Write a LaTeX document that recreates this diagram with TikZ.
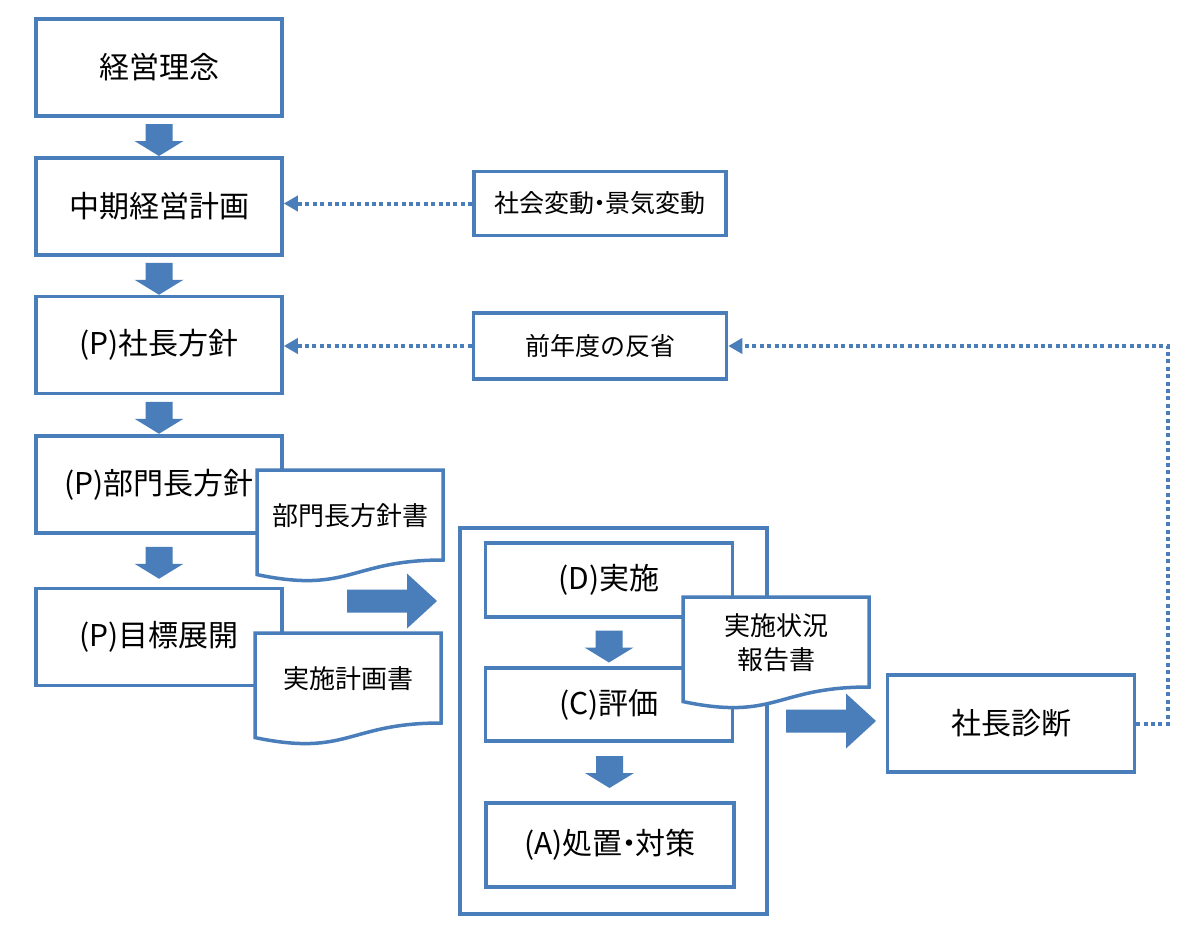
\documentclass[tikz,border=0pt]{standalone}
\usepackage{fontspec}
\setmainfont{Noto Sans CJK JP}
\usetikzlibrary{arrows.meta,calc}
\definecolor{bc}{RGB}{74,126,187}
\newcommand\mydoc[4]{%
  \begin{scope}[shift={(#2,#3)}]
    \draw[docline] (0,0) -- (186,0) -- (186,90) .. controls (93,90) and (93,124) .. (0,104.6) -- cycle;
    \node[doctext] (#1) at (93,46) {#4};
  \end{scope}}
\newcommand\ndot{\kern-0.28em・\kern-0.28em}
\begin{document}
\begin{tikzpicture}[x=1pt,y=-1pt,
  box/.style={draw=bc, line width=3.5pt, fill=white, inner sep=0pt, font=\fontsize{30}{36}\selectfont},
  sbox/.style={box, font=\fontsize{25}{30}\selectfont},
  docline/.style={draw=bc, line width=3.5pt, fill=white, line join=miter},
  doctext/.style={font=\fontsize{26}{34}\selectfont, align=center, inner sep=0pt},
  dotarrow/.style={draw=bc, line width=4pt, dash pattern=on 4pt off 3.4pt, -{Triangle[length=14pt,width=15pt]}},
  downarr/.pic={\fill[bc] (-13.5,-16) -- (13.5,-16) -- (13.5,1) -- (24.5,1) -- (0,16) -- (-24.5,1) -- (-13.5,1) -- cycle;},
  rightarr/.pic={\fill[bc] (-45,-11.5) -- (15,-11.5) -- (15,-27.5) -- (45,0) -- (15,27.5) -- (15,11.5) -- (-45,11.5) -- cycle;}
]
\fill[white] (0,0) rectangle (1200,929);
\useasboundingbox (0,0) rectangle (1200,929);

% left column
\node[box, minimum width=246pt, minimum height=97pt] (n1) at (159,67.5) {経営理念};
\node[box, minimum width=246pt, minimum height=97pt] (n2) at (159,206.5) {中期経営計画};
\node[box, minimum width=246pt, minimum height=97pt] (n3) at (159,345) {(P)社長方針};
\node[box, minimum width=246pt, minimum height=97pt] (n4) at (159,484.5) {(P)部門長方針};
\node[box, minimum width=246pt, minimum height=97pt] (n5) at (159,637) {(P)目標展開};

% middle boxes
\node[sbox, minimum width=252pt, minimum height=64pt] (s1) at (600,203.5) {社会変動\ndot 景気変動};
\node[sbox, minimum width=253pt, minimum height=66pt] (s2) at (600,346) {前年度の反省};

% container and DCA
\node[box, minimum width=307pt, minimum height=386pt] (cont) at (613.5,721) {};
\node[box, minimum width=247pt, minimum height=74pt] (d) at (609,580) {(D)実施};
\node[box, minimum width=247pt, minimum height=73pt] (c) at (609,704.5) {(C)評価};
\node[box, minimum width=248pt, minimum height=84pt] (a) at (610,845) {(A)処置\ndot 対策};

% president diagnosis
\node[box, minimum width=247pt, minimum height=97pt] (pres) at (1011,723.5) {社長診断};

% documents
\mydoc{doc1}{257}{470}{部門長方針書}
\mydoc{doc2}{255}{633}{実施計画書}
\mydoc{doc3}{683}{597}{実施状況\\報告書}

% block arrows
\pic at ($(n1.south)!0.5!(n2.north)+(0,3)$) {downarr};
\pic at ($(n2.south)!0.5!(n3.north)+(0,3)$) {downarr};
\pic at ($(n3.south)!0.5!(n4.north)+(0,3)$) {downarr};
\pic at ($(n4.south)!0.5!(n5.north)+(0,2)$) {downarr};
\pic at ($(d.south)!0.5!(c.north)+(0,4)$) {downarr};
\pic at ($(c.south)!0.5!(a.north)$) {downarr};
\coordinate (r1) at (392,601);
\coordinate (r2) at (831,721);
\pic at (r1) {rightarr};
\pic at (r2) {rightarr};

% dotted connectors
\draw[dotarrow] (s1.west) -- (n2.east |- s1.west);
\draw[dotarrow] (s2.west) -- (n3.east |- s2.west);
\draw[dotarrow] (pres.east) -- ++(32,0) |- (s2.east);
\end{tikzpicture}
\end{document}
